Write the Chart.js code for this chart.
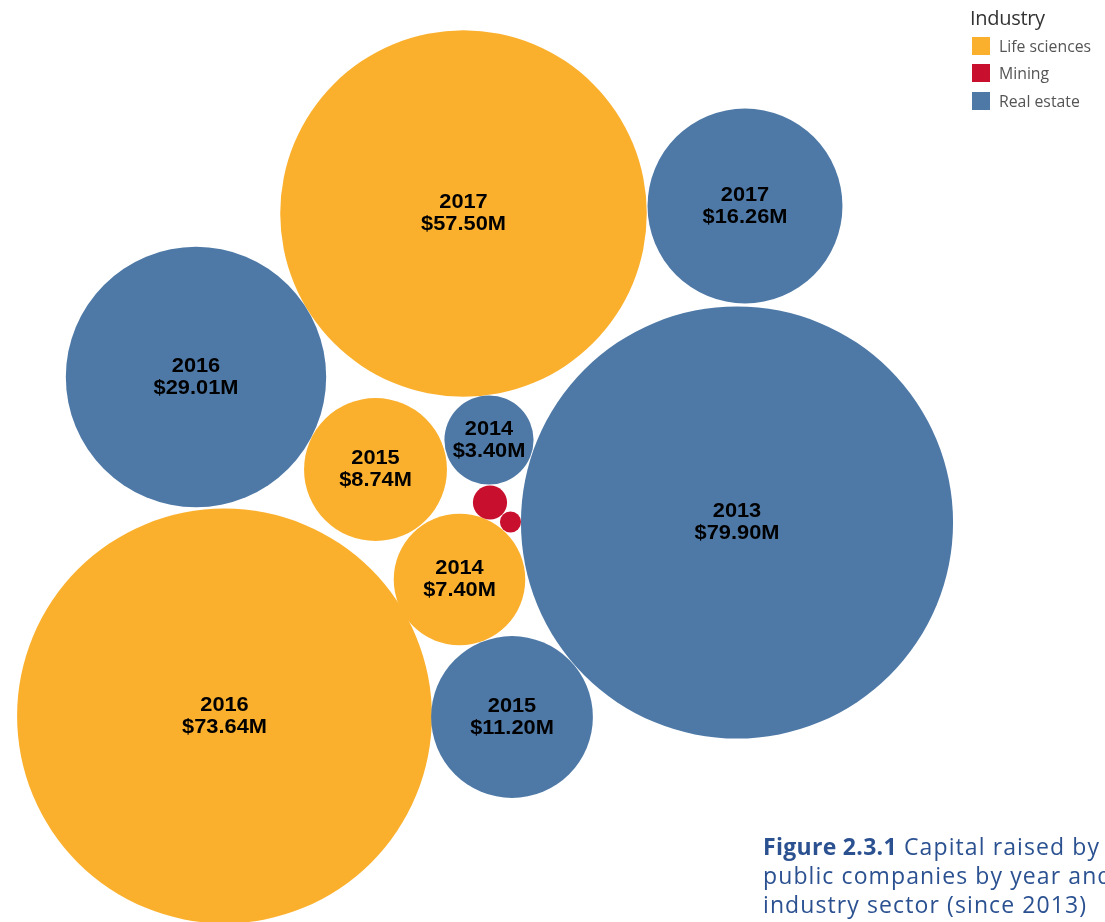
<!DOCTYPE html>
<html>
<head>
<meta charset="utf-8">
<script src="https://cdn.jsdelivr.net/npm/chart.js@4"></script>
<style>
  html, body { margin: 0; padding: 0; background: #fff; overflow: hidden; }
  #wrap { position: relative; width: 1105px; height: 922px; overflow: hidden; }
  #legend { position: absolute; left: 970px; top: 4px; font-family: "Open Sans", "DejaVu Sans", sans-serif; }
  #legend .title { font-size: 20px; color: #333; margin-bottom: 1px; letter-spacing: -0.3px; }
  #legend .item { display: flex; align-items: center; height: 27.5px; font-size: 15.8px; color: #555; }
  #legend .sw { width: 18px; height: 18px; margin: 0 9px 0 2px; }
  #caption { position: absolute; left: 763px; top: 832px; width: 420px; white-space: nowrap;
    font-family: "Open Sans", "DejaVu Sans", sans-serif; font-size: 23px; line-height: 29px;
    letter-spacing: 1.1px; color: #2b5191; }
  #caption b { font-weight: 700; letter-spacing: 0.3px; }
</style>
</head>
<body>
<div id="wrap">
  <canvas id="chart" width="1105" height="922"></canvas>
  <div id="legend"></div>
  <div id="caption"><b>Figure 2.3.1</b> Capital raised by<br>public companies by year and<br>industry sector (since 2013)</div>
</div>
<script>
// capital raised, millions
const industries = ['Life sciences', 'Mining', 'Real estate']
const colors = ['#fbb02d', '#c8102e', '#4e79a7']

const bubbleIndustry = [2, 0, 0, 2, 2, 2, 0, 0, 2, 1, 1]
const bubbleYear = [2013, 2016, 2017, 2016, 2017, 2015, 2015, 2014, 2014, 2014, 2013]
const bubbleValue = [79.90, 73.64, 57.50, 29.01, 16.26, 11.20, 8.74, 7.40, 3.40, 0.50, 0.19]
const showLabel = [true, true, true, true, true, true, true, true, true, false, false]

// packed layout (arbitrary units)
const packX = [737, 224.5, 463.5, 196, 745, 512, 375.5, 459.5, 489, 490, 510.5]
const packY = [522.5, 716, 213.5, 377, 206, 717, 469.5, 579.5, 440, 502.5, 522]

// pixel radius per sqrt($M), so area follows value
const radiusScale = 24.17

let legend = document.getElementById('legend')
let t = document.createElement('div')
t.className = 'title'
t.innerText = 'Industry'
legend.appendChild(t)
industries.forEach((name, i) => {
   let item = document.createElement('div')
   item.className = 'item'
   let sw = document.createElement('span')
   sw.className = 'sw'
   sw.style.background = colors[i]
   item.appendChild(sw)
   item.appendChild(document.createTextNode(name))
   legend.appendChild(item)
})

let points = bubbleValue.map((v, i) => ({
   x: packX[i],
   y: packY[i],
   r: radiusScale * Math.sqrt(v),
   year: bubbleYear[i],
   value: v,
   label: showLabel[i]
}))

// year + amount in the middle of each labelled bubble, slightly widened
const bubbleLabels = {
   id: 'bubbleLabels',
   afterDatasetsDraw(chart) {
      const ctx = chart.ctx
      const meta = chart.getDatasetMeta(0)
      ctx.fillStyle = '#000'
      ctx.textAlign = 'center'
      ctx.textBaseline = 'middle'
      ctx.font = 'bold 20px "Liberation Sans", Arial, sans-serif'
      meta.data.forEach((el, i) => {
         const p = points[i]
         if (!p.label) return
         ctx.save()
         ctx.translate(el.x, el.y)
         ctx.scale(1.09, 1)
         ctx.fillText(String(p.year), 0, -11)
         ctx.fillText('$' + p.value.toFixed(2) + 'M', 0, 11)
         ctx.restore()
      })
   }
}

const ctx = document.getElementById('chart').getContext('2d')
const myChart = new Chart(ctx, {
   type: 'bubble',
   data: {
      datasets: [{
         data: points,
         backgroundColor: bubbleIndustry.map(k => colors[k]),
         borderWidth: 0,
         hoverBorderWidth: 0,
         clip: false
      }]
   },
   options: {
      responsive: false,
      animation: false,
      layout: { padding: 0, autoPadding: false },
      plugins: { legend: { display: false }, tooltip: { enabled: false } },
      scales: {
         x: { type: 'linear', min: 0, max: 1105, display: false },
         y: { type: 'linear', min: 0, max: 922, reverse: true, display: false }
      }
   },
   plugins: [bubbleLabels]
})
</script>
</body>
</html>
